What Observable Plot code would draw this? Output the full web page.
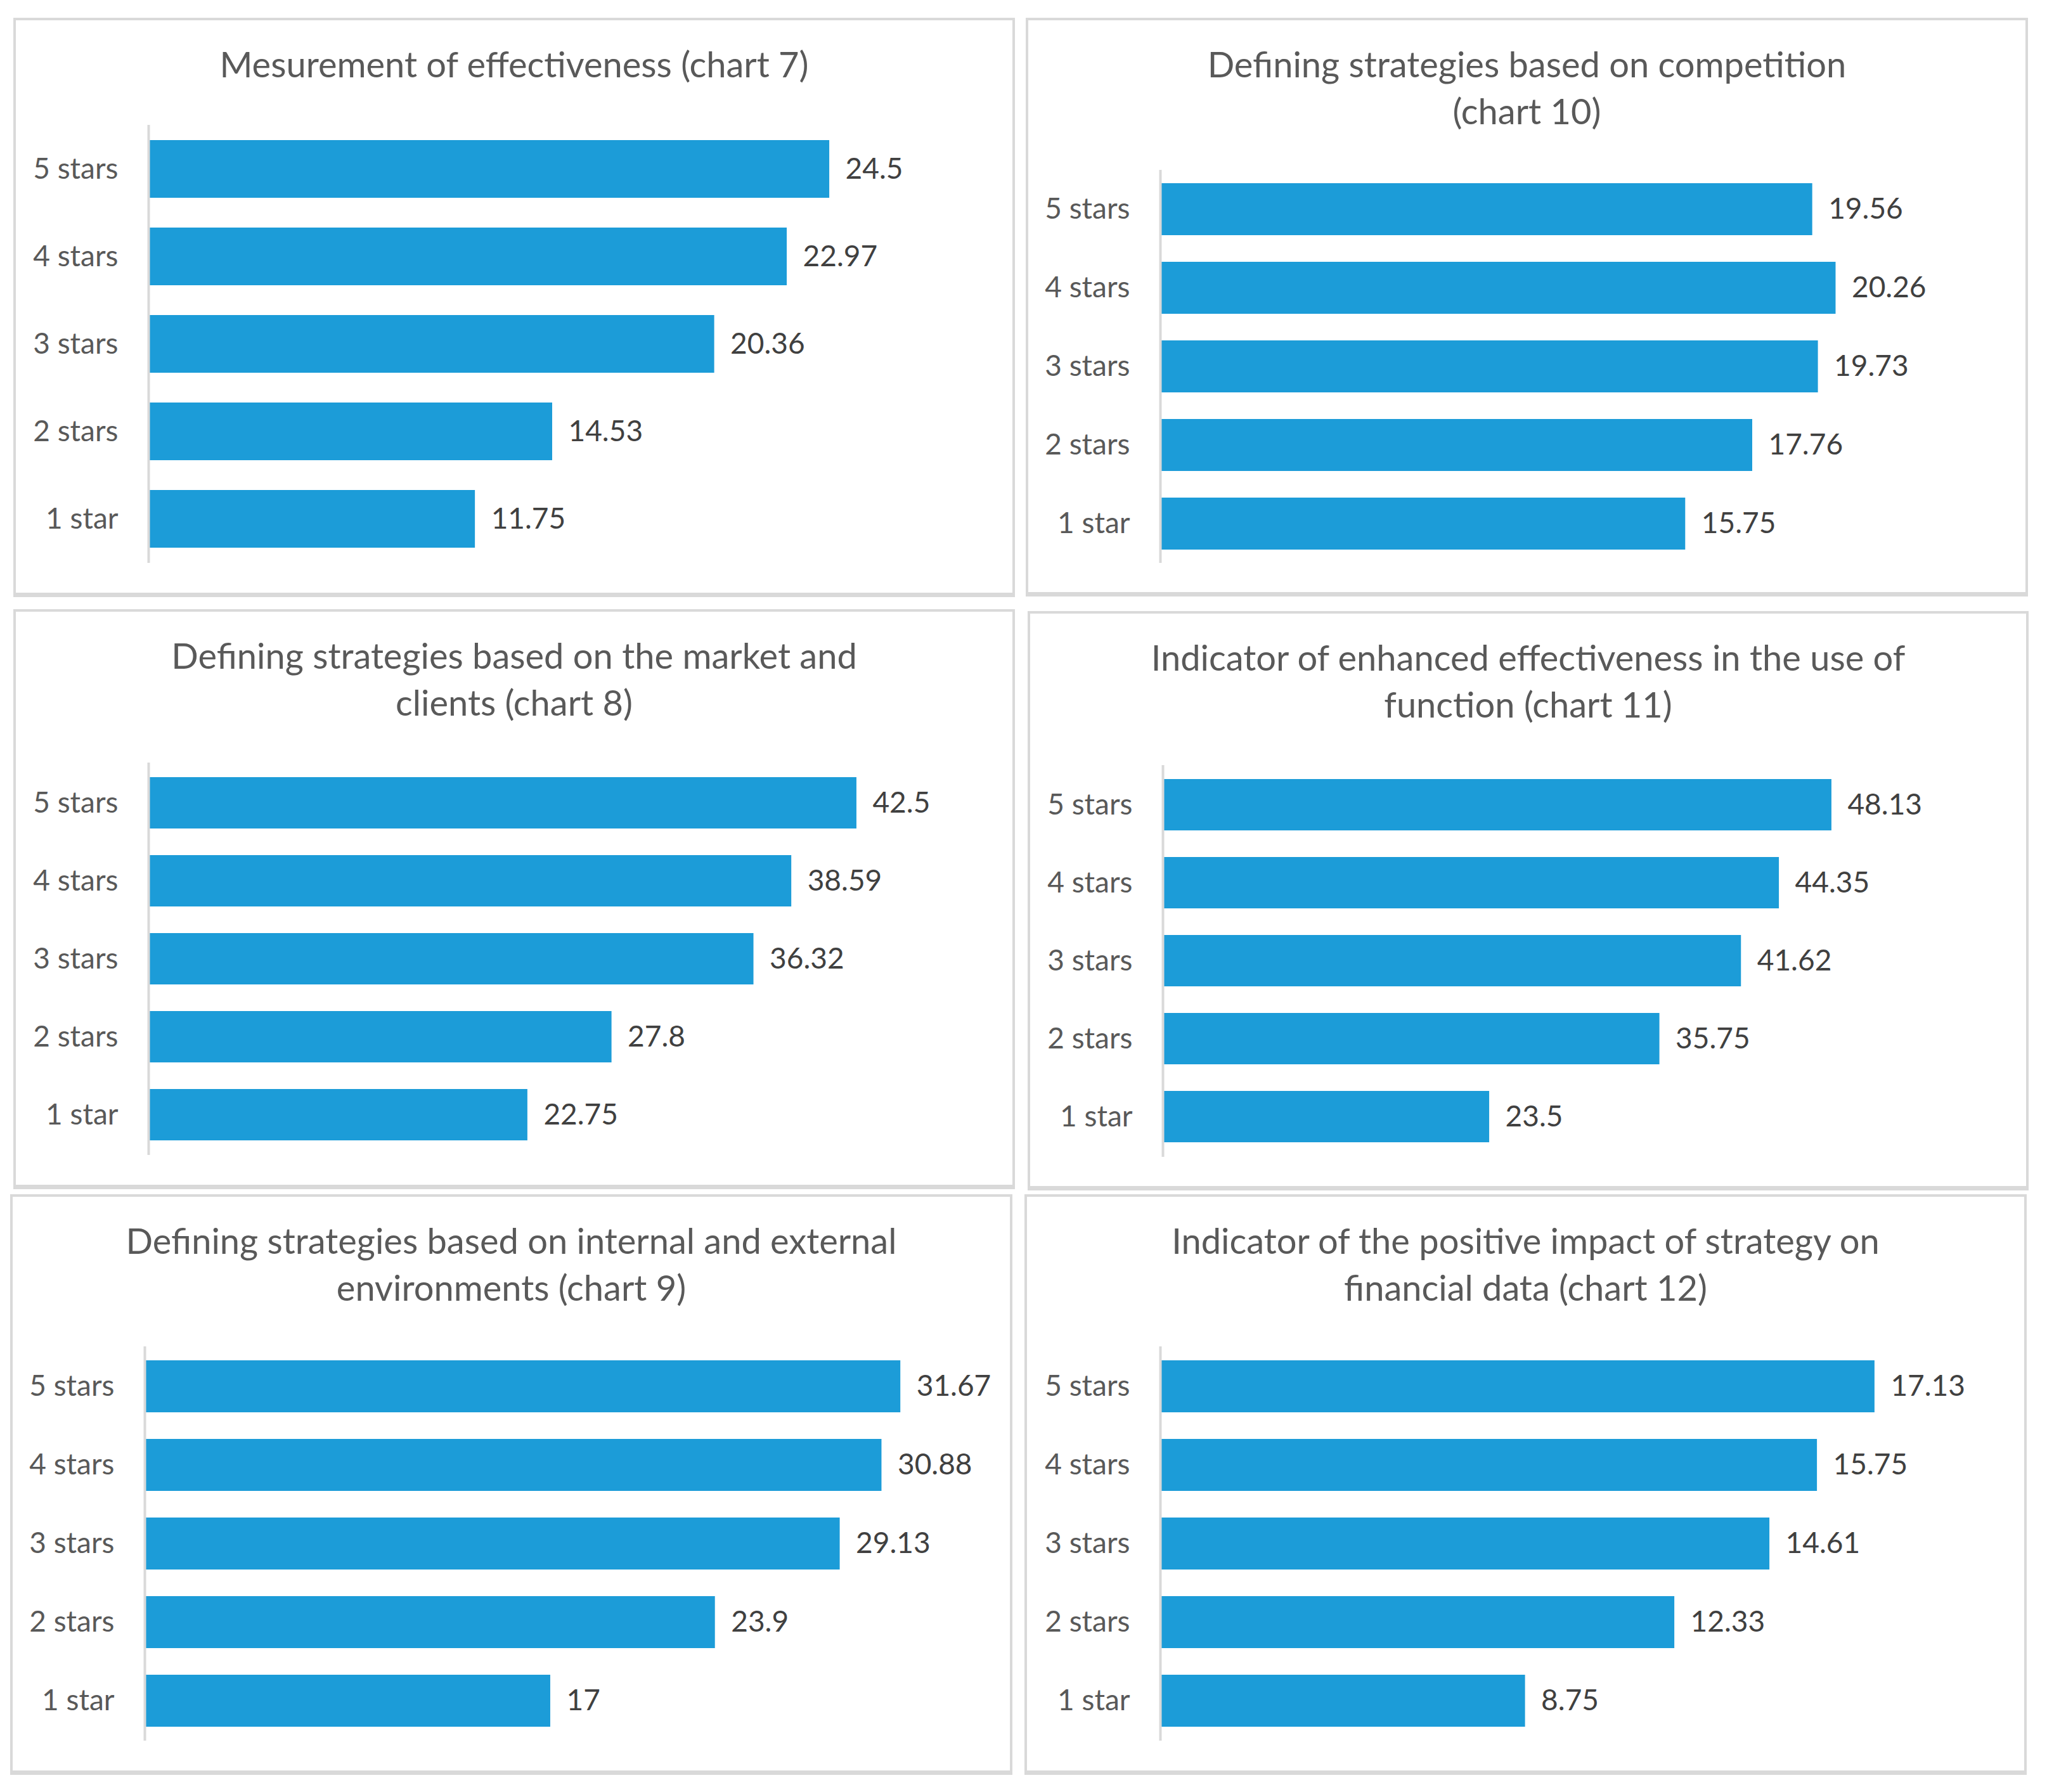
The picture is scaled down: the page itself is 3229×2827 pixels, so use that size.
<!DOCTYPE html>
<html>
<head>
<meta charset="utf-8">
<script src="https://cdn.jsdelivr.net/npm/d3@7"></script>
<script src="https://cdn.jsdelivr.net/npm/@observablehq/plot@0.6"></script>
<style>
  html, body { margin: 0; padding: 0; background: #ffffff; }
  #page { position: relative; width: 3229px; height: 2827px; background: #ffffff; font-family: Lato, "Open Sans", sans-serif; }
  .panel { position: absolute; box-sizing: border-box; border: 4px solid #d9d9d9; border-bottom-width: 7px; background: #ffffff; }
  .title { position: absolute; text-align: center; color: #595959; font-size: 56px; line-height: 74px; white-space: nowrap; }
  .chart { position: absolute; }
</style>
</head>
<body>
<div id="page"></div>
<script>
// ---- data ----
const categories = ["5 stars", "4 stars", "3 stars", "2 stars", "1 star"];

const title7  = ["Mesurement of effectiveness (chart 7)"];
const title10 = ["Defining strategies based on competition", "(chart 10)"];
const title8  = ["Defining strategies based on the market and", "clients (chart 8)"];
const title11 = ["Indicator of enhanced effectiveness in the use of", "function (chart 11)"];
const title9  = ["Defining strategies based on internal and external", "environments (chart 9)"];
const title12 = ["Indicator of the positive impact of strategy on", "financial data (chart 12)"];

const values7  = [24.5, 22.97, 20.36, 14.53, 11.75];
const values10 = [19.56, 20.26, 19.73, 17.76, 15.75];
const values8  = [42.5, 38.59, 36.32, 27.8, 22.75];
const values11 = [48.13, 44.35, 41.62, 35.75, 23.5];
const values9  = [31.67, 30.88, 29.13, 23.9, 17];
const values12 = [17.13, 15.75, 14.61, 12.33, 8.75];

// x-scale maxima (each Excel chart is auto-scaled independently)
const xMax7 = 28.90, xMax10 = 24.13, xMax8 = 48.21, xMax11 = 57.76, xMax9 = 33.71, xMax12 = 19.26;

// ---- layout (page pixels) ----
const panels = [
  {title: title7,  values: values7,  xMax: xMax7,  left: 21,   top: 28,   width: 1580, height: 914, axisX: 234,  bandTop: 197,  bandBottom: 888},
  {title: title10, values: values10, xMax: xMax10, left: 1618, top: 28,   width: 1581, height: 913, axisX: 1830, bandTop: 268,  bandBottom: 888},
  {title: title8,  values: values8,  xMax: xMax8,  left: 21,   top: 961,  width: 1580, height: 915, axisX: 234,  bandTop: 1203, bandBottom: 1822},
  {title: title11, values: values11, xMax: xMax11, left: 1621, top: 964,  width: 1579, height: 914, axisX: 1834, bandTop: 1207, bandBottom: 1825},
  {title: title9,  values: values9,  xMax: xMax9,  left: 16,   top: 1884, width: 1581, height: 916, axisX: 228,  bandTop: 2124, bandBottom: 2746},
  {title: title12, values: values12, xMax: xMax12, left: 1616, top: 1884, width: 1581, height: 916, axisX: 1830, bandTop: 2124, bandBottom: 2746}
];

const page = document.getElementById("page");
const FONT = "Lato, 'Open Sans', sans-serif";

for (const p of panels) {
  const box = document.createElement("div");
  box.className = "panel";
  Object.assign(box.style, {left: p.left + "px", top: p.top + "px", width: p.width + "px", height: p.height + "px"});
  page.appendChild(box);

  const t = document.createElement("div");
  t.className = "title";
  Object.assign(t.style, {left: p.left + "px", top: (p.top + 36) + "px", width: p.width + "px"});
  p.title.forEach((line, i) => {
    if (i) t.appendChild(document.createElement("br"));
    t.appendChild(document.createTextNode(line));
  });
  page.appendChild(t);

  const data = categories.map((c, i) => ({cat: c, value: p.values[i]}));
  const mt = 20, mb = 20, mr = 100;
  const svg = Plot.plot({
    width: p.width,
    height: p.bandBottom - p.bandTop + mt + mb,
    marginLeft: p.axisX - p.left,
    marginRight: mr,
    marginTop: mt,
    marginBottom: mb,
    x: {domain: [0, p.xMax], axis: null},
    y: {domain: categories, paddingInner: 0.34, paddingOuter: 0.17, axis: null},
    style: {fontFamily: FONT, fontSize: "46px", color: "#595959", background: "transparent", overflow: "visible"},
    marks: [
      Plot.barX(data, {x: "value", y: "cat", fill: "#1c9cd8"}),
      Plot.ruleX([0], {stroke: "#d9d9d9", strokeWidth: 4}),
      Plot.axisY({tickSize: 0, tickPadding: 48, fontSize: 46, label: null}),
      Plot.text(data, {x: "value", y: "cat", text: d => String(d.value), dx: 25, textAnchor: "start", fill: "#404040", fontSize: 46})
    ]
  });
  const wrap = document.createElement("div");
  wrap.className = "chart";
  Object.assign(wrap.style, {left: p.left + "px", top: (p.bandTop - mt) + "px"});
  wrap.appendChild(svg);
  page.appendChild(wrap);
}
</script>
</body>
</html>
